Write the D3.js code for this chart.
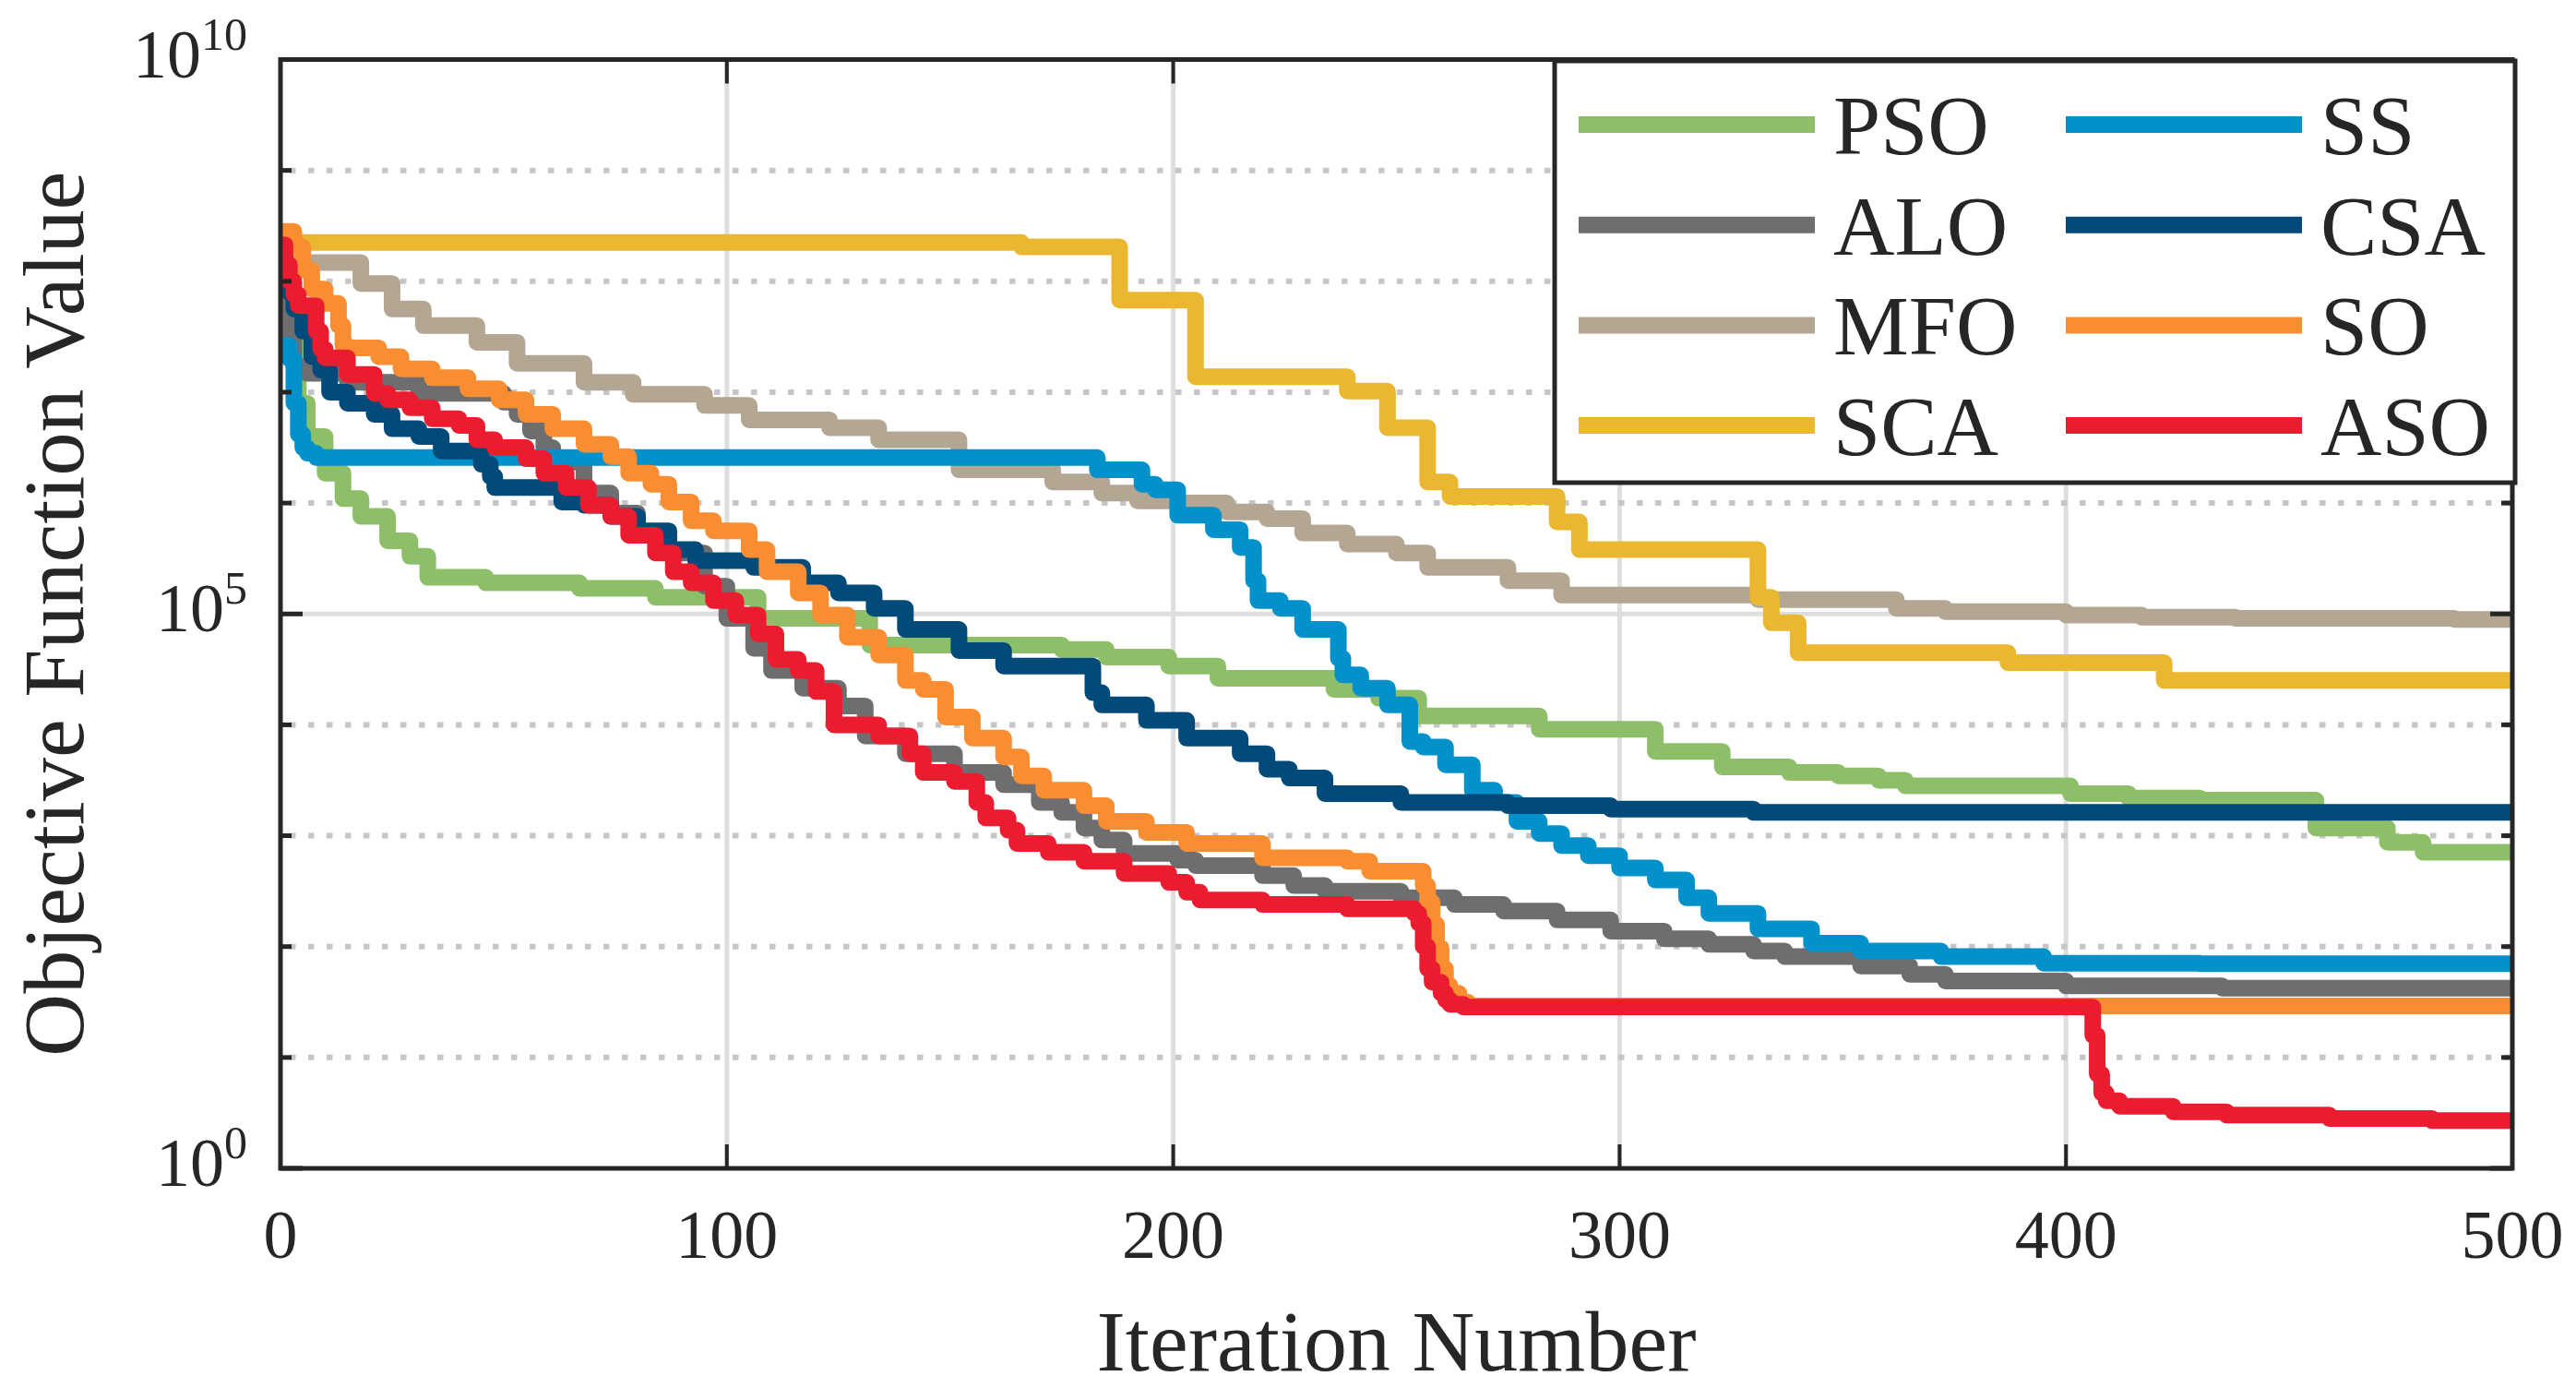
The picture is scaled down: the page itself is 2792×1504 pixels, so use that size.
<!DOCTYPE html>
<html>
<head>
<meta charset="utf-8">
<script src="https://cdn.jsdelivr.net/npm/d3@7"></script>
<style>
  body { margin: 0; background: #fff; }
  text { font-family: "Liberation Serif", "Times New Roman", serif; fill: #262626; }
</style>
</head>
<body>
<script>
// legend order (column by column) and line colours
const names = ['PSO', 'ALO', 'MFO', 'SCA', 'SS', 'CSA', 'SO', 'ASO'];
const colors = ['#8dbf69', '#6e6e70', '#b3a793', '#ebb731', '#0391cc', '#024a79', '#f98d31', '#ec1c30'];

// [iteration, log10(objective value)] where each best-so-far level starts
const pso = [[0,8.40],[2,7.5],[4,6.9],[6,6.6],[10,6.27],[14,6.04],[18,5.88],[24,5.66],[29,5.52],[33,5.33],[46,5.28],[67,5.23],[84,5.15],[107,4.96],[132,4.72],[175,4.68],[185,4.61],[199,4.53],[210,4.42],[236,4.32],[246,4.24],[255,4.08],[282,3.96],[308,3.76],[323,3.62],[338,3.57],[349,3.54],[358,3.50],[364,3.45],[401,3.38],[414,3.34],[430,3.32],[456,3.07],[472,2.94],[480,2.85],[500,2.85]];
const alo = [[0,8.35],[1,7.9],[2,7.5],[3,7.23],[6,7.17],[15,7.09],[31,6.99],[50,6.91],[53,6.8],[56,6.65],[59,6.5],[61,6.37],[68,6.09],[74,5.91],[80,5.71],[87,5.55],[95,5.25],[100,4.96],[106,4.69],[110,4.49],[117,4.33],[125,4.17],[131,3.90],[140,3.74],[151,3.57],[162,3.46],[170,3.30],[175,3.21],[180,3.07],[184,2.96],[189,2.84],[201,2.78],[205,2.73],[220,2.64],[227,2.55],[234,2.50],[251,2.44],[263,2.38],[274,2.32],[286,2.24],[298,2.14],[310,2.07],[320,2.02],[330,1.96],[337,1.91],[354,1.825],[365,1.75],[373,1.69],[400,1.645],[435,1.625],[500,1.62]];
const mfo = [[0,8.42],[2,8.3],[3,8.24],[5,8.17],[18,7.98],[25,7.75],[32,7.60],[44,7.45],[53,7.26],[68,7.09],[79,6.98],[95,6.88],[105,6.75],[123,6.68],[134,6.57],[152,6.30],[173,6.19],[184,6.09],[192,6.02],[201,6.0],[212,5.92],[221,5.86],[229,5.73],[239,5.63],[250,5.55],[257,5.42],[275,5.30],[287,5.17],[331,5.13],[362,5.05],[373,5.02],[400,4.99],[417,4.97],[438,4.96],[487,4.95],[500,4.95]];
const sca = [[0,8.35],[166,8.31],[188,7.83],[205,7.14],[239,7.01],[248,6.68],[257,6.19],[262,6.06],[286,5.83],[291,5.58],[331,5.15],[334,4.92],[340,4.65],[387,4.56],[422,4.40],[500,4.40]];
const ss = [[0,7.42],[2,7.3],[3,6.9],[4,6.62],[5,6.5],[6,6.45],[8,6.41],[183,6.30],[193,6.17],[196,6.12],[201,5.89],[209,5.76],[215,5.60],[218,5.3],[219,5.12],[224,5.05],[229,4.86],[237,4.6],[238,4.45],[242,4.33],[248,4.18],[253,3.85],[256,3.80],[261,3.64],[267,3.41],[272,3.30],[277,3.13],[282,3.02],[287,2.91],[293,2.82],[300,2.71],[308,2.60],[315,2.44],[320,2.30],[331,2.16],[343,2.03],[354,1.96],[372,1.91],[395,1.85],[430,1.845],[500,1.84]];
const csa = [[0,8.39],[1,8.1],[2,7.9],[3,7.75],[5,7.55],[7,7.32],[9,7.2],[11,7.0],[15,6.90],[21,6.80],[25,6.67],[31,6.60],[36,6.47],[45,6.35],[47,6.24],[48,6.14],[63,6.01],[68,5.98],[74,5.88],[80,5.75],[87,5.58],[93,5.48],[106,5.42],[117,5.28],[125,5.19],[133,5.05],[140,4.86],[152,4.67],[162,4.53],[182,4.29],[184,4.18],[194,4.04],[203,3.88],[215,3.74],[221,3.60],[226,3.52],[234,3.38],[251,3.30],[275,3.27],[298,3.24],[330,3.21],[500,3.20]];
const so = [[0,8.45],[3,8.31],[5,8.1],[7,7.93],[10,7.8],[13,7.6],[14,7.42],[15,7.4],[22,7.32],[27,7.21],[34,7.13],[42,7.03],[49,6.93],[55,6.80],[61,6.67],[68,6.53],[74,6.42],[78,6.27],[83,6.17],[87,6.01],[92,5.84],[97,5.75],[105,5.58],[109,5.38],[116,5.19],[121,4.99],[127,4.79],[134,4.63],[140,4.40],[144,4.32],[149,4.07],[155,3.88],[162,3.71],[166,3.54],[171,3.41],[180,3.27],[185,3.13],[194,3.03],[203,2.93],[220,2.80],[239,2.77],[244,2.68],[256,2.55],[257,2.4],[258,2.2],[259,1.99],[260,1.8],[261,1.65],[262,1.58],[264,1.5],[266,1.465],[500,1.455]];
const aso = [[0,8.33],[1,8.15],[2,8.0],[3,7.88],[4,7.78],[8,7.55],[9,7.39],[10,7.31],[15,7.16],[21,6.99],[24,6.93],[29,6.86],[34,6.76],[40,6.70],[44,6.57],[48,6.50],[55,6.40],[59,6.27],[64,6.14],[69,5.98],[74,5.88],[78,5.71],[84,5.55],[88,5.38],[92,5.28],[97,5.12],[102,4.99],[107,4.82],[111,4.59],[116,4.49],[120,4.30],[124,4.0],[134,3.90],[141,3.74],[144,3.57],[151,3.49],[156,3.30],[158,3.16],[163,3.05],[165,2.93],[172,2.85],[180,2.77],[189,2.66],[199,2.58],[203,2.49],[206,2.42],[220,2.38],[239,2.34],[254,2.30],[255,2.21],[256,2.0],[257,1.80],[258,1.68],[260,1.58],[261,1.52],[262,1.48],[265,1.455],[406,1.2],[407,0.85],[408,0.68],[409,0.61],[412,0.56],[424,0.51],[436,0.48],[459,0.45],[482,0.43],[500,0.425]];

const series = [pso, alo, mfo, sca, ss, csa, so, aso];

// axis ticks
const xTicks = [0, 100, 200, 300, 400, 500];
const yLabelExp = [0, 5, 10];
const yDecades = d3.range(0, 11);

// canvas
let width = 2792;
let height = 1504;
let padLeft = 304, padRight = 2723, padTop = 64.5, padBottom = 1266;

let svg = d3.select('body').append('svg')
   .attr('width', width)
   .attr('height', height);
svg.append('rect').attr('width', width).attr('height', height).attr('fill', '#fff');

let x = d3.scaleLinear().domain([0, 500]).range([padLeft, padRight]);
let y = d3.scaleLog().domain([1, 1e10]).range([padBottom, padTop]);

svg.append('clipPath').attr('id', 'clip')
   .append('rect').attr('x', padLeft).attr('y', padTop)
   .attr('width', padRight - padLeft).attr('height', padBottom - padTop);

// grid: solid at major ticks, dotted at the other decades
let grid = svg.append('g');
grid.selectAll('line.xg')
   .data(xTicks.slice(1, -1))
   .enter().append('line')
      .attr('x1', d => x(d)).attr('x2', d => x(d))
      .attr('y1', padBottom).attr('y2', padTop)
      .attr('stroke', '#dedede').attr('stroke-width', 5);
grid.selectAll('line.yg')
   .data(yLabelExp.slice(1, -1))
   .enter().append('line')
      .attr('x1', padLeft).attr('x2', padRight)
      .attr('y1', d => y(Math.pow(10, d))).attr('y2', d => y(Math.pow(10, d)))
      .attr('stroke', '#dedede').attr('stroke-width', 5);
grid.selectAll('line.ym')
   .data(yDecades.filter(e => !yLabelExp.includes(e)))
   .enter().append('line')
      .attr('x1', padLeft + 10).attr('x2', padRight)
      .attr('y1', d => y(Math.pow(10, d))).attr('y2', d => y(Math.pow(10, d)))
      .attr('stroke', '#c6c6c6').attr('stroke-width', 6)
      .attr('stroke-dasharray', '6.5,13.5');

// convergence curves
let line = d3.line()
   .x(d => x(d[0]))
   .y(d => y(Math.pow(10, d[1])))
   .curve(d3.curveStepAfter);

svg.append('g').attr('clip-path', 'url(#clip)')
   .selectAll('path')
   .data(series)
   .enter().append('path')
      .attr('d', line)
      .attr('fill', 'none')
      .attr('stroke', (d, i) => colors[i])
      .attr('stroke-width', 18)
      .attr('stroke-linejoin', 'round');

// axes box and inward ticks
let axes = svg.append('g').attr('stroke', '#262626');
axes.append('rect')
   .attr('x', padLeft).attr('y', padTop)
   .attr('width', padRight - padLeft).attr('height', padBottom - padTop)
   .attr('fill', 'none').attr('stroke-width', 5);
let tickLen = e => yLabelExp.includes(e) ? 24 : 12;
axes.selectAll('line.yl')
   .data(yDecades)
   .enter().append('line')
      .attr('x1', padLeft).attr('x2', d => padLeft + tickLen(d))
      .attr('y1', d => y(Math.pow(10, d))).attr('y2', d => y(Math.pow(10, d)))
      .attr('stroke-width', 5);
axes.selectAll('line.yr')
   .data(yDecades)
   .enter().append('line')
      .attr('x1', padRight).attr('x2', d => padRight - tickLen(d))
      .attr('y1', d => y(Math.pow(10, d))).attr('y2', d => y(Math.pow(10, d)))
      .attr('stroke-width', 5);
axes.selectAll('line.xb')
   .data(xTicks)
   .enter().append('line')
      .attr('x1', d => x(d)).attr('x2', d => x(d))
      .attr('y1', padBottom).attr('y2', padBottom - 26)
      .attr('stroke-width', 4);
axes.selectAll('line.xt')
   .data(xTicks)
   .enter().append('line')
      .attr('x1', d => x(d)).attr('x2', d => x(d))
      .attr('y1', padTop).attr('y2', padTop + 26)
      .attr('stroke-width', 4);

// tick labels
svg.selectAll('text.xtick')
   .data(xTicks)
   .enter().append('text')
      .attr('x', d => x(d))
      .attr('y', 1363)
      .attr('text-anchor', 'middle')
      .attr('font-size', 74)
      .text(d => d);

let ylab = svg.selectAll('text.ytick')
   .data(yLabelExp)
   .enter().append('text')
      .attr('x', 268)
      .attr('y', d => y(Math.pow(10, d)) + 19)
      .attr('text-anchor', 'end')
      .attr('font-size', 74);
ylab.append('tspan').text('10');
ylab.append('tspan').attr('dy', -30).attr('font-size', 50).text(d => d);

// axis titles
svg.append('text')
   .attr('x', (padLeft + padRight) / 2)
   .attr('y', 1485)
   .attr('text-anchor', 'middle')
   .attr('font-size', 94)
   .text('Iteration Number');
svg.append('text')
   .attr('transform', 'translate(90,' + (padTop + padBottom) / 2 + ') rotate(-90)')
   .attr('text-anchor', 'middle')
   .attr('font-size', 94)
   .text('Objective Function Value');

// legend, two columns of four
let legend = svg.append('g');
legend.append('rect')
   .attr('x', 1685).attr('y', 66)
   .attr('width', 1041).attr('height', 457)
   .attr('fill', '#fff').attr('stroke', '#262626').attr('stroke-width', 5);
let item = legend.selectAll('g.item')
   .data(names)
   .enter().append('g')
      .attr('transform', (d, i) => 'translate(' + (i < 4 ? 1711 : 2239) + ',' + (135 + (i % 4) * 108.7) + ')');
item.append('line')
   .attr('x1', 0).attr('x2', 256)
   .attr('stroke', (d, i) => colors[i])
   .attr('stroke-width', 18);
item.append('text')
   .attr('x', 276).attr('y', 32)
   .attr('font-size', 92)
   .attr('fill', '#000')
   .text(d => d);
</script>
</body>
</html>
